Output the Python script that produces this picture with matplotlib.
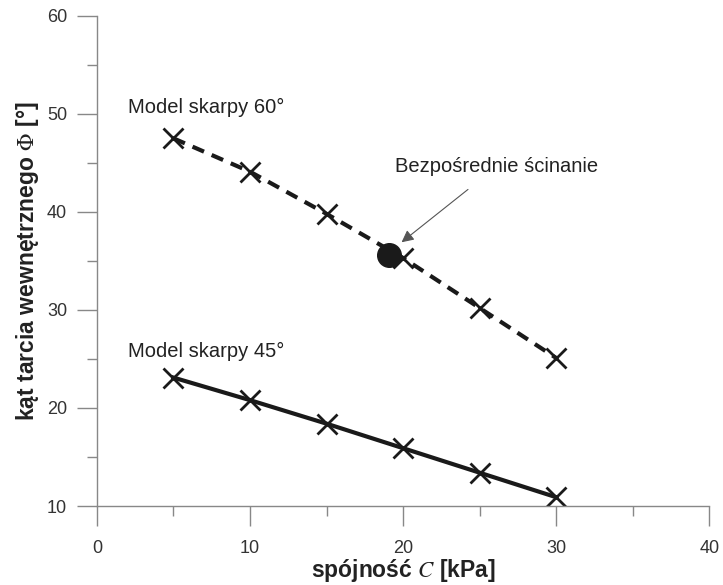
import matplotlib.pyplot as plt

# dane
spojnosc = [5, 10, 15, 20, 25, 30]
phi_60 = [47.5, 44.1, 39.8, 35.3, 30.2, 25.1]
phi_45 = [23.1, 20.8, 18.4, 15.9, 13.4, 10.9]
scinanie_c = [19.1]
scinanie_phi = [35.6]

plt.rcParams['font.family'] = ['Liberation Sans', 'DejaVu Sans']
plt.rcParams['mathtext.fontset'] = 'stix'

fig = plt.figure(figsize=(7.23, 5.85), dpi=100)
ax = fig.add_axes([0.134, 0.135, 0.847, 0.838])

ax.plot(spojnosc, phi_60, color='#1a1a1a', lw=3, dashes=(3, 2),
        marker='x', ms=15, mew=2, mec='#1a1a1a')
ax.plot(spojnosc, phi_45, color='#1a1a1a', lw=3,
        marker='x', ms=15, mew=2, mec='#1a1a1a')
ax.plot(scinanie_c, scinanie_phi, 'o', color='#1a1a1a', ms=17, zorder=5)

ax.text(2.0, 50.6, 'Model skarpy 60°', fontsize=14.5, color='#222222', va='center')
ax.text(2.0, 25.8, 'Model skarpy 45°', fontsize=14.5, color='#222222', va='center')
ax.annotate('Bezpośrednie ścinanie', xy=(19.9, 36.9), xytext=(26.1, 44.6),
            fontsize=14.5, color='#222222', ha='center', va='center',
            arrowprops=dict(arrowstyle='-|>', color='#555555', lw=0.8,
                            mutation_scale=18, shrinkA=12, shrinkB=0))

ax.set_xlim(0, 40)
ax.set_ylim(10, 60)
ax.set_xticks([0, 10, 20, 30, 40])
ax.set_xticks([5, 15, 25, 35], minor=True)
ax.set_yticks([10, 20, 30, 40, 50, 60])
ax.set_yticks([15, 25, 35, 45, 55], minor=True)

for s in ['top', 'right']:
    ax.spines[s].set_visible(False)
for s in ['left', 'bottom']:
    ax.spines[s].set_color('#888888')
    ax.spines[s].set_linewidth(1)
ax.tick_params(which='major', length=14.5, width=1, color='#888888',
               labelsize=13, labelcolor='#333333')
ax.tick_params(axis='x', which='major', pad=10)
ax.tick_params(axis='y', which='major', pad=7)
ax.tick_params(which='minor', length=7, width=1, color='#888888')

ax.set_xlabel('spójność $\\mathit{C}$ [kPa]', fontsize=16.5, fontweight='bold',
              color='#222222', labelpad=0)
ax.set_ylabel('kąt tarcia wewnętrznego $\\Phi$ [°]', fontsize=16.5,
              fontweight='bold', color='#222222', labelpad=4)

fig.savefig('out.png', dpi=100)
